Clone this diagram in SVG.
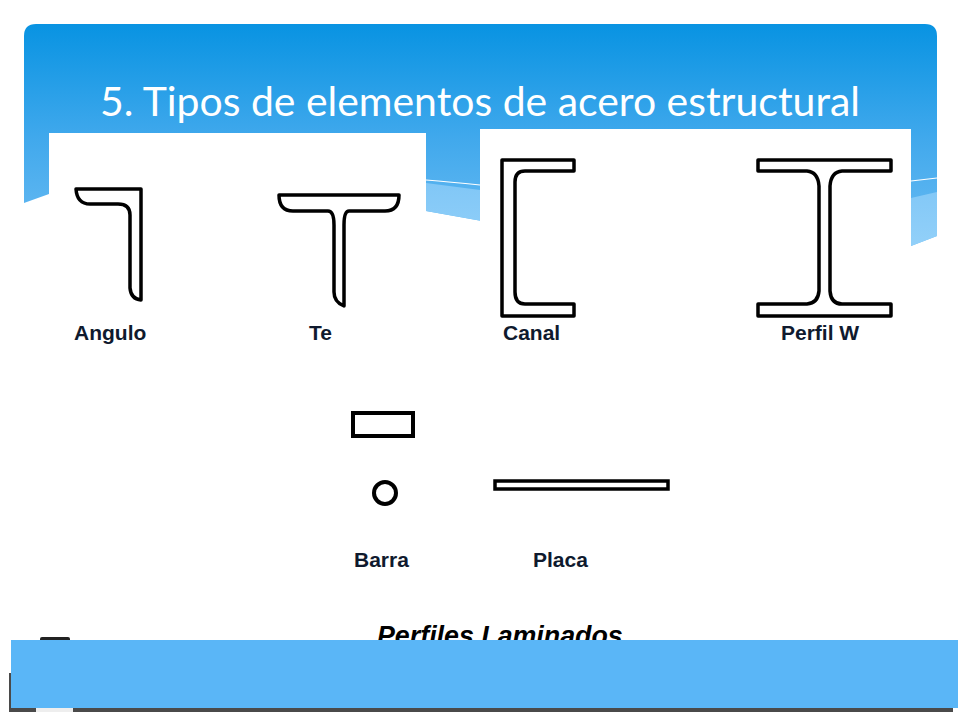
<svg xmlns="http://www.w3.org/2000/svg" width="960" height="720" viewBox="0 0 960 720">
<style>
.lbl{font-family:"Liberation Sans",Arial,sans-serif;font-weight:700;font-size:21px;fill:#0f1a2e}
.shp{fill:#fff;stroke:#000;stroke-width:3.5;stroke-linejoin:round}
.thick{fill:#fff;stroke:#000;stroke-width:4}
</style>
<defs>
<linearGradient id="hdr" gradientUnits="userSpaceOnUse" x1="0" y1="24" x2="0" y2="246">
<stop offset="0" stop-color="#0893e2"/>
<stop offset="0.5" stop-color="#3fa8ec"/>
<stop offset="1" stop-color="#6cbcf3"/>
</linearGradient>
<linearGradient id="band" gradientUnits="userSpaceOnUse" x1="0" y1="178" x2="0" y2="246">
<stop offset="0" stop-color="#7fc6f6"/>
<stop offset="1" stop-color="#92d0f9"/>
</linearGradient>
</defs>
<rect width="960" height="720" fill="#fff"/>
<g id="header">
<path d="M24,36Q24,24 36,24H925Q937,24 937,36V236L911,246L700,260L426,211L300,185L49,194L24,203Z" fill="url(#hdr)"/>
<path d="M426,183L480,190L700,200L911,198L937,192V236L911,246L700,260L426,211Z" fill="url(#band)"/>
<path d="M426,180Q450,182 480,185M911,181L937,178" fill="none" stroke="#fff" stroke-width="1.2"/>
<text x="480" y="116" text-anchor="middle" font-family="Lato,sans-serif" font-size="40" fill="#fff" textLength="760" lengthAdjust="spacingAndGlyphs">5. Tipos de elementos de acero estructural</text>
</g>
<g id="footer-base">
<rect x="9" y="673" width="944" height="39" fill="#4a4a4a"/>
<rect x="36" y="706" width="37" height="6" fill="#eee"/>
</g>
<g id="panels">
<rect x="49" y="133" width="377" height="520" fill="#fff"/>
<rect x="480" y="129" width="431" height="520" fill="#fff"/>
<rect x="340" y="340" width="340" height="300" fill="#fff"/>
</g>
<rect x="40" y="637" width="30" height="6" rx="2" fill="#222" id="footer-tab"/>
<g id="angulo">
<path class="shp" d="M76,189H141V300Q131,299 130,288V215Q130,204 118,204H90Q77,204 76,189Z"/>
<text class="lbl" x="74" y="340">Angulo</text>
</g>
<g id="te">
<path class="shp" d="M279,195H399Q399,211 385,211H349Q344,211 344,225V306Q334,302 334,292V225Q334,211 328,211H293Q279,211 279,195Z"/>
<text class="lbl" x="309" y="340">Te</text>
</g>
<g id="canal">
<path class="shp" d="M502,160H574V171H525Q515,171 515,182V292Q515,304 525,304H574V316H502Z"/>
<text class="lbl" x="503" y="340">Canal</text>
</g>
<g id="perfil-w">
<path class="shp" d="M758,160H891V171H842Q831,172 830,186V291Q831,304 842,304H891V316H758V304H807Q818,303 819,291V186Q818,172 807,171H758Z"/>
<text class="lbl" x="781" y="340">Perfil W</text>
</g>
<g id="barra">
<rect class="thick" x="353" y="413" width="60" height="23"/>
<circle cx="385" cy="493" r="11" fill="#fff" stroke="#000" stroke-width="4"/>
<text class="lbl" x="354" y="567">Barra</text>
</g>
<g id="placa">
<rect x="495" y="481" width="173" height="8" fill="#fff" stroke="#000" stroke-width="3.5"/>
<text class="lbl" x="533" y="567">Placa</text>
</g>
<g id="caption">
<text x="377" y="645" font-family="'Liberation Sans',Arial,sans-serif" font-weight="700" font-style="italic" font-size="26.8" fill="#000">Perfiles Laminados</text>
</g>
<rect id="footer-band" x="11" y="640" width="947" height="68" fill="#5ab6f7"/>
</svg>
